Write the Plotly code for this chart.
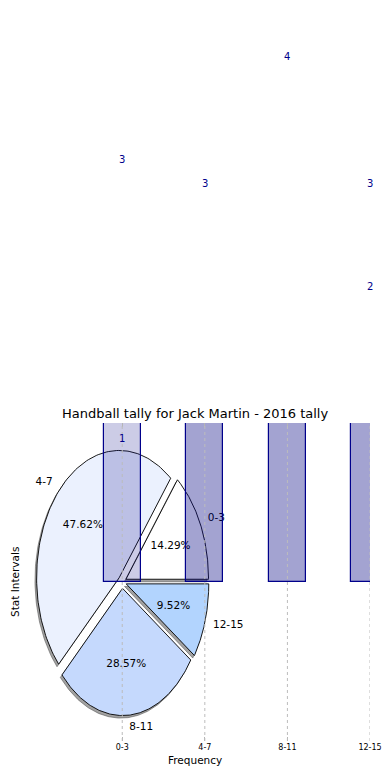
import numpy as np
import plotly.graph_objects as go

# ---------------- data ----------------
categories = ["0-3", "4-7", "8-11", "12-15"]
pie_counts = [3, 10, 6, 2]          # slices: 14.29%, 47.62%, 28.57%, 9.52%
bar_counts = [3, 10, 6, 2]          # bars (run off the top of the axes)
extra_labels = [1, 3, 4, 3]         # second row of value labels above the bars
chart_title = "Handball tally for Jack Martin - 2016 tally"
x_title = "Frequency"
y_title = "Stat Intervals"

# ---------------- styles / layout ----------------
FONT = "DejaVu Sans"
pie_colors = ["#ffffff", "#ebf1fe", "#c5d9fd", "#b2d4fe"]
bar_alpha = [0.2, 0.36, 0.36, 0.36]
explode = 0.05
shadow_off = -0.02
bar_width = 0.45
XR = [-1.25, 3.0]
YR = [-1.25, 1.25]
W, H = 390, 780
PAGE = 8  # default page body margin of the html page
ML, MR, MT, MB = 19 - PAGE, W - 370.5 + PAGE, 423 - PAGE, H - 741 + PAGE
PLOT_H = H - MT - MB
PLOT_W = W - ML - MR


def ypaper(v):
    """data-y -> paper fraction (also valid outside the axis range)"""
    return (v - YR[0]) / (YR[1] - YR[0])


fig = go.Figure()

# ---------------- pie (drawn on base axes) ----------------
total = float(sum(pie_counts))
theta1 = 0.0
label_pts = []
for i, (cat, v) in enumerate(zip(categories, pie_counts)):
    frac = v / total
    theta2 = theta1 + 360.0 * frac
    mid = np.deg2rad((theta1 + theta2) / 2)
    dx, dy = explode * np.cos(mid), explode * np.sin(mid)
    t = np.deg2rad(np.linspace(theta1, theta2, 120))
    xs = np.concatenate([[dx], dx + np.cos(t), [dx]])
    ys = np.concatenate([[dy], dy + np.sin(t), [dy]])
    # shadow
    fig.add_trace(go.Scatter(x=xs + shadow_off, y=ys + shadow_off, mode="lines",
                             fill="toself", fillcolor="rgba(70,70,70,0.5)",
                             line=dict(color="rgba(70,70,70,0.5)", width=1),
                             hoverinfo="skip", showlegend=False, xaxis="x", yaxis="y"))
    fig.add_trace(go.Scatter(x=xs, y=ys, mode="lines", fill="toself",
                             fillcolor=pie_colors[i],
                             line=dict(color="black", width=0.9),
                             hoverinfo="skip", showlegend=False, xaxis="x", yaxis="y"))
    label_pts.append((cat, frac, mid, dx, dy))
    theta1 = theta2

for cat, frac, mid, dx, dy in label_pts:
    lx = dx + 1.1 * np.cos(mid)
    ly = dy + 1.1 * np.sin(mid)
    fig.add_trace(go.Scatter(x=[lx], y=[ly], mode="text", text=[cat],
                             textposition="middle right" if lx > 0 else "middle left",
                             textfont=dict(family=FONT, size=10.5, color="black"),
                             hoverinfo="skip", showlegend=False, cliponaxis=False,
                             xaxis="x", yaxis="y"))
    px_ = dx + 0.6 * np.cos(mid)
    py_ = dy + 0.6 * np.sin(mid)
    fig.add_trace(go.Scatter(x=[px_], y=[py_], mode="text", text=["%.2f%%" % (frac * 100)],
                             textposition="middle center",
                             textfont=dict(family=FONT, size=10.5, color="black"),
                             hoverinfo="skip", showlegend=False, cliponaxis=False,
                             xaxis="x", yaxis="y"))

# ---------------- bars (overlay axes, above the pie) ----------------
xpos = list(range(len(categories)))
fig.add_trace(go.Bar(x=xpos, y=bar_counts, width=bar_width,
                     marker=dict(color=["rgba(0,0,128,%g)" % a for a in bar_alpha],
                                 line=dict(color="#00008b", width=1.2)),
                     hoverinfo="skip", showlegend=False, xaxis="x2", yaxis="y2"))

# value labels (they sit far above the axes, so use paper-referenced annotations)
max_visible = YR[1] + MT / PLOT_H * (YR[1] - YR[0])
for series, off in ((extra_labels, 0.13), (bar_counts, 0.32)):
    for xv, v in zip(xpos, series):
        if v + off > max_visible - 0.05:
            continue  # lies above the top of the page
        fig.add_annotation(x=xv, xref="x", y=ypaper(v + off), yref="paper",
                           text=str(v), showarrow=False, xanchor="center", yanchor="middle",
                           font=dict(family=FONT, size=10, color="#00008b"))

# gridlines on top
for xv in xpos:
    fig.add_shape(type="line", xref="x", yref="y domain", x0=xv, x1=xv, y0=0, y1=1,
                  line=dict(color="#bcbcbc", width=1, dash="dot"), layer="above")

# titles
fig.add_annotation(text=chart_title, xref="paper", yref="paper", x=0.5,
                   y=1 + 10 / PLOT_H, xanchor="center", yanchor="middle", showarrow=False,
                   font=dict(family=FONT, size=13, color="black"))
fig.add_annotation(text=x_title, xref="paper", yref="paper", x=0.5,
                   y=-19 / PLOT_H, xanchor="center", yanchor="middle", showarrow=False,
                   font=dict(family=FONT, size=10.5, color="black"))
fig.add_annotation(text=y_title, xref="paper", yref="paper", x=(7 - ML) / PLOT_W,
                   y=0.5, xanchor="center", yanchor="middle", showarrow=False, textangle=-90,
                   font=dict(family=FONT, size=10.5, color="black"))

fig.update_layout(
    width=W, height=H,
    margin=dict(l=ML, r=MR, t=MT, b=MB, autoexpand=False),
    paper_bgcolor="white", plot_bgcolor="white",
    showlegend=False,
    bargap=0,
    xaxis=dict(range=XR, tickvals=xpos, ticktext=categories, showgrid=False,
               zeroline=False, ticks="inside", ticklen=4, tickcolor="#b5b5b5",
               mirror="ticks", automargin=False,
               tickfont=dict(family=FONT, size=8, color="black")),
    yaxis=dict(range=YR, showgrid=False, zeroline=False, showticklabels=False,
               ticks="", automargin=False),
    xaxis2=dict(range=XR, overlaying="x", visible=False),
    yaxis2=dict(range=YR, overlaying="y", visible=False),
)

fig.write_html("out.html")
